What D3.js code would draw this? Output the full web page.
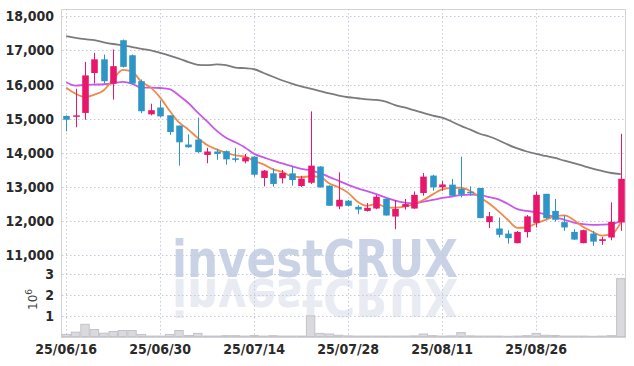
<!DOCTYPE html>
<html>
<head>
<meta charset="utf-8">
<script src="https://cdn.jsdelivr.net/npm/d3@7"></script>
<style>
  body { margin: 0; background: #fff; }
  text { font-family: "Liberation Sans Narrow", "DejaVu Sans Condensed", sans-serif; }
</style>
</head>
<body>
<svg id="chart" width="634" height="366"></svg>
<script>
const dates = [
  '2025-06-16','2025-06-17','2025-06-18','2025-06-19','2025-06-20','2025-06-23','2025-06-24','2025-06-25','2025-06-26','2025-06-27',
  '2025-06-30','2025-07-01','2025-07-02','2025-07-03','2025-07-04','2025-07-07','2025-07-08','2025-07-09','2025-07-10','2025-07-11',
  '2025-07-14','2025-07-15','2025-07-16','2025-07-17','2025-07-18','2025-07-21','2025-07-22','2025-07-23','2025-07-24','2025-07-25',
  '2025-07-28','2025-07-29','2025-07-30','2025-07-31','2025-08-01','2025-08-04','2025-08-05','2025-08-06','2025-08-07','2025-08-08',
  '2025-08-11','2025-08-12','2025-08-13','2025-08-14','2025-08-18','2025-08-19','2025-08-20','2025-08-21','2025-08-22','2025-08-25',
  '2025-08-26','2025-08-27','2025-08-28','2025-08-29','2025-09-01','2025-09-02','2025-09-03','2025-09-04','2025-09-05','2025-09-08'
];
const open = [15080,15070,15170,16340,16740,16030,17300,16860,16100,15130,
  15330,15100,14800,14245,14390,13940,14040,14050,13840,13750,
  13890,13265,13400,13255,13400,13030,13125,13600,13040,12430,
  12600,12420,12300,12370,12655,12135,12420,12370,12825,13335,
  12990,13070,12945,12860,12970,11970,11785,11635,11355,11680,
  11950,12800,12300,11970,11685,11355,11635,11420,11520,11960];
const high = [15100,15880,16665,16930,16880,17030,17320,16880,16150,15440,
  15540,15100,14800,14540,15030,14150,14120,14070,14150,13970,
  13900,13500,13545,13500,13610,13330,15215,13610,13050,13430,
  12620,12470,12530,12765,12660,12620,12650,12870,13410,13360,
  13185,13235,13890,13020,12975,12270,12105,11735,11710,12180,
  12870,12800,12650,12175,11765,11750,11710,11540,12550,14560];
const low = [14630,14750,14970,16030,16030,15560,16500,16000,15165,15100,
  15050,14530,13625,14150,14000,13695,13795,13655,13725,13695,
  13300,13020,13010,13105,13040,13000,13090,12980,12450,12350,
  12430,12205,12280,12350,12160,11765,12340,12360,12745,12890,
  12890,12740,12695,12745,12085,11795,11520,11340,11350,11520,
  11815,12060,11990,11715,11450,11350,11275,11305,11440,11715];
const close = [14970,15100,16270,16740,16100,16540,16520,16030,15220,15250,
  15070,14610,14310,14165,14020,14040,13970,13810,13795,13870,
  13360,13480,13090,13410,13205,13245,13625,12990,12450,12625,
  12450,12340,12390,12715,12165,12355,12500,12770,13305,12990,
  13075,12745,12775,12825,12090,12145,11600,11500,11685,12140,
  12770,12085,12040,11815,11460,11735,11400,11470,11980,13240];
const volume = [100000,210000,590000,340000,160000,240000,290000,290000,100000,20000,
  20000,100000,290000,50000,150000,20000,20000,40000,40000,20000,
  50000,20000,40000,20000,20000,20000,1000000,150000,120000,60000,
  30000,20000,20000,20000,20000,20000,20000,30000,120000,40000,
  20000,30000,190000,30000,20000,20000,20000,10000,20000,40000,
  150000,60000,50000,20000,20000,20000,10000,20000,40000,2800000];
const ma5 = [15910,15735,15635,15705,15836,16150,16434,16386,16082,15912,
  15618,15236,14892,14681,14435,14229,14101,14001,13927,13897,
  13761,13663,13519,13442,13309,13286,13315,13295,13103,12987,
  12828,12571,12451,12504,12412,12393,12425,12501,12619,12784,
  12928,12977,12978,12882,12702,12516,12287,12032,11804,11814,
  11939,12036,12144,12170,12034,11827,11690,11576,11609,11965];
const ma20 = [16070,15970,15990,16000,16010,16040,16080,16030,15910,15910,
  15900,15870,15680,15460,15180,14920,14650,14440,14310,14160,
  13970,13870,13770,13690,13610,13530,13490,13410,13290,13180,
  13060,12960,12880,12790,12690,12600,12540,12520,12570,12620,
  12680,12720,12765,12775,12770,12700,12640,12500,12350,12300,
  12260,12200,12110,12040,11960,11910,11890,11895,11910,12010];
const ma60 = [17420,17370,17330,17300,17240,17190,17150,17100,17050,17005,
  16930,16850,16760,16660,16580,16570,16590,16570,16500,16480,
  16450,16340,16230,16120,16030,15950,15880,15810,15740,15680,
  15630,15600,15570,15550,15500,15400,15330,15250,15170,15090,
  15030,14920,14790,14680,14560,14480,14370,14240,14130,14040,
  13970,13910,13850,13770,13700,13620,13540,13470,13410,13380];
const priceTicks = [11000,12000,13000,14000,15000,16000,17000,18000];
const volTicks = [1,2,3];
const dateTicks = ['2025-06-16','2025-06-30','2025-07-14','2025-07-28','2025-08-11','2025-08-26'];

const plotLeft = 62, plotRight = 626, plotTop = 9, split = 272, plotBottom = 337;
const upColor = '#e8176b', downColor = '#2f95c7', gridColor = '#c5c9dd';

const svg = d3.select('#chart');

const x = d3.scaleBand().domain(dates).range([plotLeft - 0.5, plotRight - 0.5]).paddingInner(0.3).paddingOuter(0.15);
const xc = d => x(d) + x.bandwidth() / 2;
const y = d3.scaleLinear().domain([10510, 18215]).range([split, plotTop]);
const yv = d3.scaleLinear().domain([0, 3.12]).range([plotBottom - 0.5, split]);

// watermark + its reflection
const wm = svg.append('g').style('font-family', '"DejaVu Sans", sans-serif')
    .style('font-weight', 'bold').style('font-size', '52px');
wm.append('text')
    .attr('x', 172).attr('y', 277)
    .attr('textLength', 286).attr('lengthAdjust', 'spacingAndGlyphs')
    .style('fill', '#cad2e6')
    .text('investCRUX');
wm.append('text')
    .attr('x', 172).attr('y', -279)
    .attr('transform', 'scale(1,-1)')
    .attr('textLength', 286).attr('lengthAdjust', 'spacingAndGlyphs')
    .style('fill', '#e8ebf2')
    .text('investCRUX');

// grid
const grid = svg.append('g')
    .attr('stroke', gridColor).attr('stroke-dasharray', '1.5,2.5').attr('stroke-width', 1);
grid.selectAll('.hp').data(priceTicks).enter().append('line')
    .attr('x1', plotLeft).attr('x2', plotRight)
    .attr('y1', d => Math.round(y(d)) + 0.5).attr('y2', d => Math.round(y(d)) + 0.5);
grid.selectAll('.hv').data(volTicks).enter().append('line')
    .attr('x1', plotLeft).attr('x2', plotRight)
    .attr('y1', d => Math.round(yv(d)) + 0.5).attr('y2', d => Math.round(yv(d)) + 0.5);
grid.selectAll('.vx').data(dateTicks).enter().append('line')
    .attr('x1', d => Math.round(xc(d)) + 0.5).attr('x2', d => Math.round(xc(d)) + 0.5)
    .attr('y1', plotTop).attr('y2', plotBottom);

// frame
svg.append('rect')
    .attr('x', plotLeft - 0.5).attr('y', plotTop + 0.5)
    .attr('width', plotRight - plotLeft).attr('height', plotBottom - plotTop)
    .attr('fill', 'none').attr('stroke', '#d4d4d8');

// volume bars
svg.selectAll('.vol').data(dates).enter().append('rect')
    .attr('x', d => xc(d) - x.step() / 2 + 0.5)
    .attr('y', (d, i) => yv(volume[i] / 1e6))
    .attr('width', x.step() - 1)
    .attr('height', (d, i) => yv(0) - yv(volume[i] / 1e6))
    .attr('fill', '#d9d9de').attr('stroke', '#c2c2c9').attr('stroke-width', 1);

// moving averages
const line = arr => d3.line().x((d, i) => xc(dates[i])).y(d => y(d)).curve(d3.curveMonotoneX)(arr);
svg.append('path').attr('d', line(ma60)).attr('fill', 'none').attr('stroke', '#7b7b7b').attr('stroke-width', 1.8);
svg.append('path').attr('d', line(ma20)).attr('fill', 'none').attr('stroke', '#c957ea').attr('stroke-width', 1.8);
svg.append('path').attr('d', line(ma5)).attr('fill', 'none').attr('stroke', '#ee8a4c').attr('stroke-width', 1.8);

// candles
const candle = svg.selectAll('.candle').data(dates).enter().append('g');
candle.append('line')
    .attr('x1', d => Math.round(xc(d)) + 0.5).attr('x2', d => Math.round(xc(d)) + 0.5)
    .attr('y1', (d, i) => y(high[i])).attr('y2', (d, i) => y(low[i]))
    .attr('stroke', (d, i) => close[i] >= open[i] ? upColor : downColor).attr('stroke-width', 1);
candle.append('rect')
    .attr('x', d => Math.round(xc(d)) + 0.5 - x.bandwidth() / 2)
    .attr('y', (d, i) => y(Math.max(open[i], close[i])))
    .attr('width', x.bandwidth())
    .attr('height', (d, i) => Math.max(1.5, Math.abs(y(open[i]) - y(close[i]))))
    .attr('fill', (d, i) => close[i] >= open[i] ? upColor : downColor);

// axes
const yAxis = svg.append('g')
    .attr('transform', 'translate(' + plotLeft + ',0)')
    .call(d3.axisLeft(y).tickValues(priceTicks).tickFormat(d3.format(',')).tickSize(0).tickPadding(8));
const vAxis = svg.append('g')
    .attr('transform', 'translate(' + plotLeft + ',0)')
    .call(d3.axisLeft(yv).tickValues(volTicks).tickFormat(d3.format('d')).tickSize(0).tickPadding(8));
const xAxis = svg.append('g')
    .attr('transform', 'translate(0,' + plotBottom + ')')
    .call(d3.axisBottom(x).tickValues(dateTicks)
      .tickFormat(d => d3.timeFormat('%y/%m/%d')(d3.timeParse('%Y-%m-%d')(d)))
      .tickSize(0).tickPadding(7));
[yAxis, vAxis, xAxis].forEach(g => {
  g.select('.domain').remove();
  g.selectAll('text')
      .style('font-family', '"Liberation Sans Narrow", "DejaVu Sans Condensed", sans-serif')
      .style('font-size', '14px').style('font-weight', 'bold').style('fill', '#2a2a2a');
});

// volume unit label
const unit = svg.append('text')
    .attr('transform', 'translate(37,310) rotate(-90)')
    .style('font-size', '12px').style('fill', '#444')
    .style('font-family', '"DejaVu Sans", sans-serif');
unit.append('tspan').text('10');
unit.append('tspan').attr('dy', -5).style('font-size', '9px').text('6');
</script>
</body>
</html>
